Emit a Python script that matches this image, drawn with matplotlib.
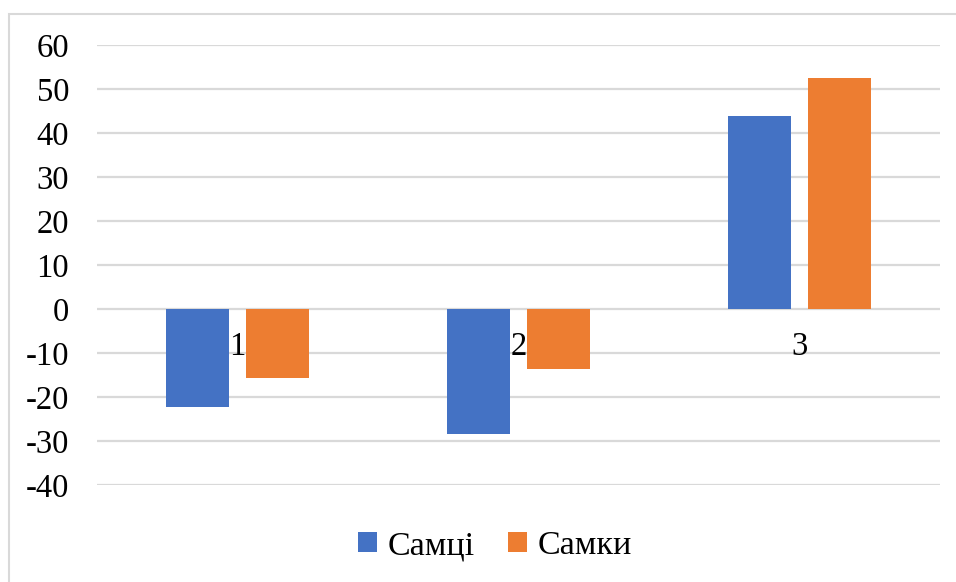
import matplotlib
matplotlib.use("Agg")
import matplotlib.pyplot as plt
from matplotlib import font_manager as fm
from matplotlib.patches import Patch, Rectangle
import numpy as np

categories = ["1", "2", "3"]
series_names = ["Самці", "Самки"]
males = [-22.3, -28.4, 43.9]
females = [-15.7, -13.6, 52.5]
yticks = [-40, -30, -20, -10, 0, 10, 20, 30, 40, 50, 60]

colors = ["#4472C4", "#ED7D31"]
grid_color = "#D9D9D9"

plt.rcParams['font.family'] = 'serif'
plt.rcParams['font.serif'] = ['Liberation Serif', 'Times New Roman', 'DejaVu Serif']

W, H = 956, 582
fig = plt.figure(figsize=(W / 100, H / 100), dpi=100)
ax = fig.add_axes([97 / W, 1 - 485 / H, (940 - 97) / W, (485 - 45) / H])

x = np.arange(len(categories))
bw = 63 / 281
off = 40 / 281
ax.bar(x - off, males, bw, color=colors[0], zorder=3)
ax.bar(x + off, females, bw, color=colors[1], zorder=3)

ax.set_xlim(-0.5, len(categories) - 0.5)
ax.set_ylim(-40, 60)
ax.set_yticks(yticks)
ax.set_yticklabels([str(t) for t in yticks], fontsize=23.5)
ax.tick_params(axis='y', length=0, pad=20)
ax.set_xticks([])
for s in ax.spines.values():
    s.set_visible(False)
for t in yticks:
    ax.axhline(t, color=grid_color, lw=1.6, zorder=1)

for xi, c in zip(x, categories):
    ax.annotate(c, (xi, 0), xytext=(0, -38), textcoords='offset pixels',
                ha='center', va='center', fontsize=23.5, zorder=5)

handles = [Patch(facecolor=colors[0]), Patch(facecolor=colors[1])]
fig.legend(handles, series_names, loc='center', bbox_to_anchor=(495 / W, 1 - 546 / H),
           ncol=2, frameon=False, fontsize=24.5, handlelength=0.55, handleheight=0.55,
           handletextpad=0.3, columnspacing=1.0, borderaxespad=0)

# outer chart border (right/bottom cropped)
fig.patches.append(Rectangle((9 / W, -0.1), 1.2, 1 - 13.5 / H + 0.1, transform=fig.transFigure,
                             fill=False, edgecolor="#D9D9D9", lw=1.5))

fig.savefig("out.png", dpi=100)
